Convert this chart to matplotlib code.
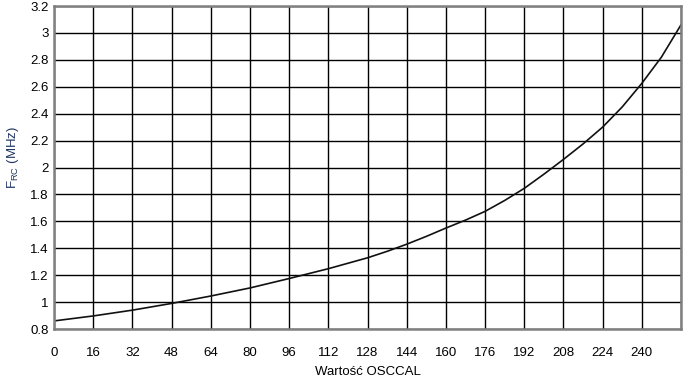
import matplotlib
matplotlib.use("Agg")
import matplotlib.pyplot as plt

plt.rcParams['font.family'] = ['Liberation Sans', 'DejaVu Sans']

osccal = [0, 16, 32, 48, 64, 80, 96, 112, 128, 136, 144, 152, 160, 168, 176, 184, 192, 200,
          208, 216, 224, 232, 240, 248, 256]
f_rc = [0.86, 0.897, 0.94, 0.99, 1.045, 1.105, 1.175, 1.248, 1.329, 1.377, 1.43, 1.488, 1.55,
        1.609, 1.674, 1.755, 1.845, 1.95, 2.06, 2.175, 2.30, 2.45, 2.625, 2.82, 3.06]

x_ticks = list(range(0, 241, 16))
y_ticks = [0.8, 1.0, 1.2, 1.4, 1.6, 1.8, 2.0, 2.2, 2.4, 2.6, 2.8, 3.0, 3.2]
y_tick_labels = ['0.8', '1', '1.2', '1.4', '1.6', '1.8', '2', '2.2', '2.4', '2.6', '2.8', '3', '3.2']

fig = plt.figure(figsize=(6.87, 3.80), dpi=100)
ax = fig.add_axes([54/687, 1 - 329/380, (681-54)/687, (329-6)/380])

ax.plot(osccal, f_rc, color='#111111', lw=1.2, zorder=3)

ax.set_xlim(0, 256)
ax.set_ylim(0.8, 3.2)
ax.set_xticks(x_ticks + [256])
ax.set_xticklabels([str(v) for v in x_ticks] + [''])
ax.set_yticks(y_ticks)
ax.set_yticklabels(y_tick_labels)
ax.grid(True, color='black', lw=1.0, zorder=1)
ax.tick_params(length=0, labelsize=9.5, colors='black')
ax.tick_params(axis='x', pad=13)
ax.tick_params(axis='y', pad=4)
for s in ax.spines.values():
    s.set_color('#808080')
    s.set_linewidth(1.8)
    s.set_zorder(4)

ax.set_xlabel('Wartość OSCCAL', fontsize=9.5, labelpad=5)
ax.set_ylabel(r'F$_{\mathregular{RC}}$ (MHz)', fontsize=9.5, color='#1f3560')
ax.yaxis.set_label_coords(-0.052, 0.53)

fig.savefig('out.png', dpi=100)
